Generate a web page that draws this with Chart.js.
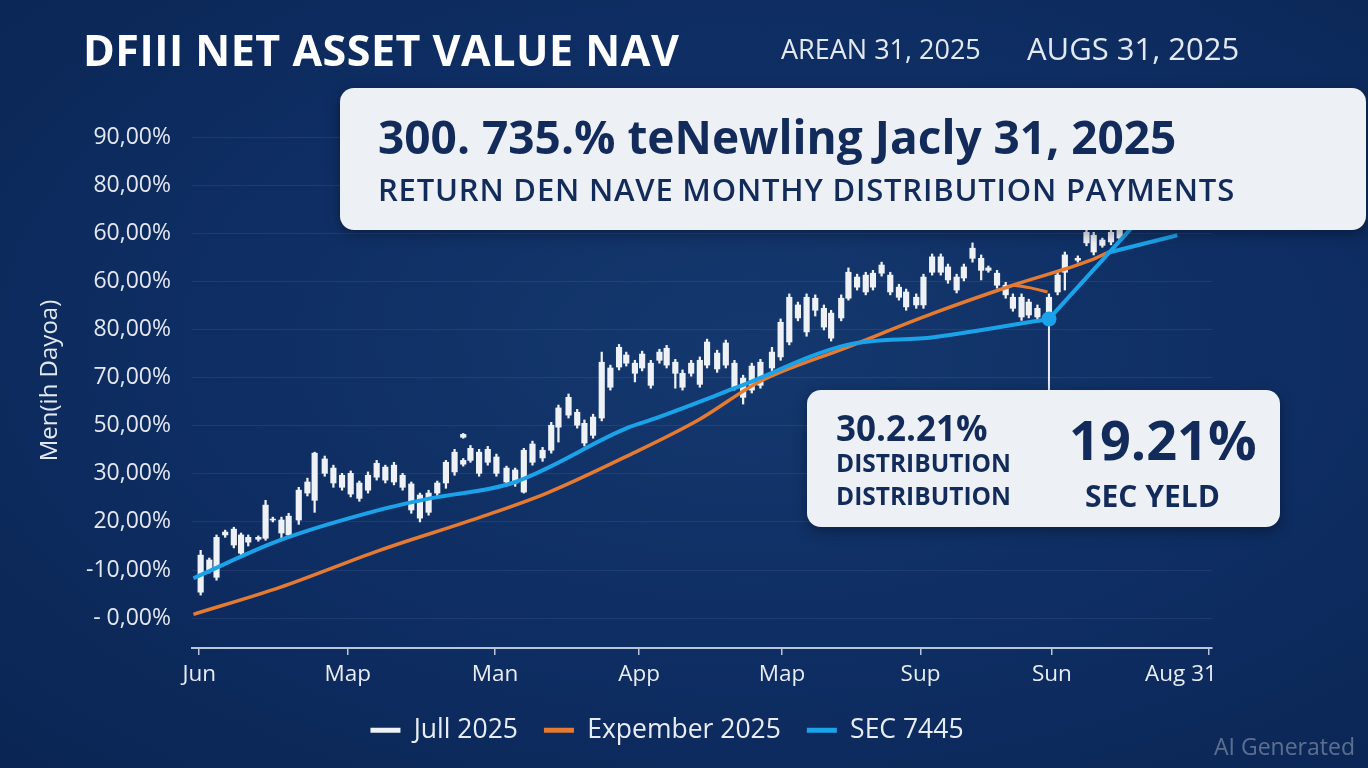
<!DOCTYPE html>
<html>
<head>
<meta charset="utf-8">
<script src="https://cdn.jsdelivr.net/npm/chart.js@4.4.1/dist/chart.umd.min.js"></script>
<style>
  html, body { margin: 0; padding: 0; }
  body { width: 1368px; height: 768px; overflow: hidden; font-family: "Open Sans", sans-serif; }
  #wrap {
    position: relative; width: 1368px; height: 768px;
    background: radial-gradient(ellipse at 55% 45%, #14386e 0%, #0e2d62 55%, #0a2553 100%);
  }
  #c { position: absolute; left: 0; top: 0; }
  .t { position: absolute; white-space: nowrap; line-height: 1; }
  #title { left: 83px; top: 28px; font-size: 43px; font-weight: 700; color: #fff; letter-spacing: 0.5px; }
  #d1 { left: 781px; top: 35px; font-size: 27px; color: #e3e9f2; }
  #d2 { left: 1027px; top: 33px; font-size: 31px; color: #e3e9f2; }
  .box {
    position: absolute; background: #edf1f6; border-radius: 14px;
    box-shadow: 0 4px 14px rgba(0, 0, 0, 0.35);
  }
  #box1 { left: 340px; top: 88px; width: 1026px; height: 142px; }
  #box2 { left: 807px; top: 390px; width: 473px; height: 137px; }
  .dk { color: #132b5b; font-weight: 700; }
  #b1a { left: 38px; top: 25px; font-size: 46px; }
  #b1b { left: 38px; top: 86px; font-size: 31px; font-weight: 600; letter-spacing: 0.8px; }
  #b2a { left: 29px; top: 20px; font-size: 35px; }
  #b2b { left: 29px; top: 61px; font-size: 24.5px; }
  #b2c { left: 29px; top: 94px; font-size: 24.5px; }
  #b2d { left: 262px; top: 22px; font-size: 54px; }
  #b2e { left: 278px; top: 91px; font-size: 30px; }
  #ai { left: 1214px; top: 735px; font-size: 23px; color: rgba(255, 255, 255, 0.33); }
</style>
</head>
<body>
<div id="wrap">
  <canvas id="c" width="1368" height="768"></canvas>
  <div class="t" id="title">DFIII NET ASSET VALUE NAV</div>
  <div class="t" id="d1">AREAN 31, 2025</div>
  <div class="t" id="d2">AUGS 31, 2025</div>
  <div class="box" id="box1">
    <div class="t dk" id="b1a">300. 735.% teNewling Jacly 31, 2025</div>
    <div class="t dk" id="b1b">RETURN DEN NAVE MONTHY DISTRIBUTION PAYMENTS</div>
  </div>
  <div class="box" id="box2">
    <div class="t dk" id="b2a">30.2.21%</div>
    <div class="t dk" id="b2b">DISTRIBUTION</div>
    <div class="t dk" id="b2c">DISTRIBUTION</div>
    <div class="t dk" id="b2d">19.21%</div>
    <div class="t dk" id="b2e">SEC YELD</div>
  </div>
  <div class="t" id="ai">AI Generated</div>
</div>
<script>
// axis text (as printed on the picture)
const xTickPos = [0, 1.03, 2.05, 3.05, 4.04, 5.0, 5.91, 7.0];
const xLabels = ['Jun', 'Map', 'Man', 'App', 'Map', 'Sup', 'Sun', 'Aug 31'];
const yTickPos = [0, 10, 20, 30, 40, 50, 60, 70, 80, 90, 100];
const yLabels = ['- 0,00%', '-10,00%', '20,00%', '30,00%', '50,00%', '70,00%',
  '80,00%', '60,00%', '60,00%', '80,00%', '90,00%'];
const legendNames = ['Jull 2025', 'Expember 2025', 'SEC 7445'];

// candles: x, body (open/close), wick (high/low)
const candleX = [0.01, 0.07, 0.12, 0.18, 0.24, 0.29, 0.34, 0.41, 0.46, 0.51, 0.57, 0.62, 0.69, 0.75, 0.80,
  0.87, 0.93, 0.99, 1.05, 1.11, 1.17, 1.23, 1.29, 1.35, 1.41, 1.47, 1.53, 1.59, 1.65, 1.71, 1.77, 1.83, 1.83,
  1.88, 1.94, 2.00, 2.06, 2.13, 2.19, 2.25, 2.31, 2.38, 2.44, 2.49, 2.56, 2.62, 2.67, 2.73, 2.79, 2.85, 2.91,
  2.96, 3.02, 3.07, 3.13, 3.19, 3.24, 3.30, 3.35, 3.41, 3.47, 3.52, 3.59, 3.65, 3.71, 3.77, 3.83, 3.89, 3.97,
  4.03, 4.09, 4.15, 4.21, 4.27, 4.33, 4.38, 4.45, 4.50, 4.56, 4.62, 4.67, 4.73, 4.79, 4.85, 4.90, 4.97, 5.02,
  5.08, 5.14, 5.19, 5.25, 5.30, 5.36, 5.42, 5.47, 5.53, 5.59, 5.64, 5.70, 5.75, 5.81, 5.89, 5.95, 6.00, 6.09,
  6.15, 6.20, 6.26, 6.32, 6.38];
const candleOpen = [13.1, 12.1, 16.8, 17.9, 18.5, 17.3, 16.8, 16.8, 23.5, 20.6, 20.4, 21.2, 26.6, 28.3, 34.3,
  33.1, 31.2, 29.7, 30.1, 28.1, 29.7, 32.2, 31.4, 31.8, 29.7, 27.9, 25.6, 26.0, 28.1, 32.4, 34.5, 32.8, 38.2,
  35.3, 34.5, 35.1, 33.5, 31.2, 30.8, 34.9, 36.2, 34.9, 40.1, 43.7, 45.9, 42.8, 40.5, 41.8, 53.2, 52.0, 56.3,
  54.7, 53.0, 54.9, 53.0, 55.3, 56.1, 53.2, 50.9, 53.0, 53.6, 57.4, 55.1, 57.2, 53.0, 49.9, 52.4, 53.2, 55.3,
  61.5, 66.7, 65.1, 66.7, 66.5, 64.4, 63.4, 66.5, 71.9, 70.9, 71.3, 71.7, 73.4, 71.3, 68.8, 67.8, 66.7, 70.9,
  75.1, 75.1, 73.0, 70.9, 73.0, 76.9, 74.8, 72.8, 71.7, 69.2, 66.7, 66.7, 65.7, 64.4, 66.7, 71.3, 75.5, 74.8,
  80.2, 79.6, 78.6, 80.2, 80.7];
const candleClose = [5.4, 10.0, 8.5, 17.3, 15.2, 13.5, 15.8, 16.4, 16.6, 20.4, 17.7, 17.3, 20.4, 26.0, 24.5,
  30.1, 28.1, 27.2, 25.8, 24.9, 26.6, 29.3, 28.7, 28.3, 27.2, 22.5, 20.8, 22.0, 26.0, 28.1, 30.4, 32.0, 37.6,
  32.8, 30.1, 32.4, 30.1, 28.3, 28.1, 26.2, 32.4, 33.3, 34.9, 39.7, 42.2, 40.1, 36.4, 38.0, 41.6, 48.0, 52.2,
  53.0, 50.9, 52.0, 48.4, 53.6, 52.6, 50.9, 48.0, 50.9, 48.6, 52.6, 51.8, 52.6, 48.0, 45.9, 47.4, 48.4, 52.0,
  54.3, 57.4, 62.4, 59.5, 64.0, 60.5, 58.2, 62.4, 66.5, 68.8, 67.8, 68.8, 71.7, 67.8, 66.7, 64.7, 65.1, 65.1,
  71.9, 71.9, 70.3, 68.2, 70.7, 74.8, 72.3, 72.3, 69.2, 67.2, 64.4, 62.6, 63.0, 62.6, 63.0, 67.8, 71.9, 74.4,
  78.0, 76.1, 77.5, 78.2, 79.0];
const candleHigh = [14.1, 12.5, 17.3, 18.3, 18.9, 17.7, 17.3, 17.1, 24.5, 21.0, 21.0, 21.8, 27.2, 29.1, 34.5,
  33.7, 31.8, 30.1, 30.6, 28.5, 30.4, 32.8, 31.8, 32.4, 30.1, 28.3, 26.0, 26.6, 28.5, 32.8, 35.1, 33.2, 38.4,
  35.9, 35.1, 35.7, 34.1, 31.6, 31.2, 35.3, 36.8, 35.5, 40.7, 44.3, 46.6, 43.4, 41.2, 42.4, 55.3, 52.6, 56.9,
  55.3, 53.6, 55.5, 53.6, 55.9, 56.7, 53.8, 51.6, 53.6, 54.3, 58.0, 55.7, 57.8, 53.6, 50.5, 53.0, 53.8, 56.3,
  62.2, 67.4, 65.7, 67.4, 67.2, 65.1, 64.0, 67.2, 72.8, 71.5, 71.9, 72.3, 74.0, 71.9, 69.4, 68.4, 67.4, 71.5,
  75.7, 75.7, 73.6, 71.5, 73.6, 78.0, 75.5, 73.2, 72.3, 69.8, 67.4, 67.4, 66.3, 65.1, 67.4, 71.9, 76.1, 75.3,
  80.9, 80.2, 79.0, 80.9, 81.3];
const candleLow = [4.8, 9.4, 7.9, 16.8, 14.6, 12.9, 15.0, 16.0, 16.2, 20.0, 16.2, 16.6, 19.5, 25.4, 22.0,
  29.5, 27.2, 26.6, 25.2, 24.3, 26.0, 28.7, 28.1, 27.7, 26.6, 21.8, 20.0, 21.4, 25.4, 27.0, 29.7, 31.6, 37.4,
  32.4, 29.5, 31.8, 29.5, 27.7, 27.4, 26.0, 31.8, 32.6, 34.3, 36.6, 41.6, 39.5, 35.8, 37.4, 41.0, 47.4, 51.6,
  52.4, 49.1, 51.4, 47.8, 53.0, 52.0, 47.8, 47.4, 50.3, 48.0, 52.0, 51.1, 52.0, 47.4, 44.5, 46.8, 47.8, 51.4,
  53.6, 56.8, 61.8, 58.6, 62.8, 59.9, 57.6, 61.8, 66.1, 68.2, 67.2, 68.2, 71.1, 67.2, 66.1, 64.0, 64.4, 64.4,
  71.3, 71.3, 69.6, 67.6, 70.1, 74.0, 70.3, 71.9, 68.6, 66.5, 63.8, 61.9, 62.4, 61.9, 62.4, 67.2, 68.2, 74.0,
  77.4, 75.5, 77.1, 77.6, 78.4];

// orange line
const expX = [-0.04, 0.56, 1.25, 1.95, 2.41, 2.98, 3.46, 3.88, 4.49, 5.09, 5.64, 6.18, 6.29];
const expY = [0.8, 6.4, 14.1, 21.0, 26.0, 33.9, 41.2, 49.1, 56.3, 63.4, 69.2, 74.4, 75.9];
const expSpurX = [5.64, 5.77, 5.88];
const expSpurY = [69.2, 68.6, 67.8];

// blue line: curve up to the marked point, then a straight climb
const secX = [-0.04, 0.56, 1.25, 1.60, 2.17, 2.98, 3.13, 3.73, 4.49, 5.09, 5.89];
const secY = [8.3, 16.2, 22.5, 24.9, 28.1, 39.7, 41.2, 48.0, 56.8, 58.4, 62.2];
const secRiseX = [5.89, 6.45, 6.59];
const secRiseY = [62.2, 80.7, 85.9];
const secTailX = [6.29, 6.78];
const secTailY = [75.9, 79.6];
const markerX = [5.89];
const markerY = [62.2];
const stemY = [62.2, 47.4];

const pts = (xs, ys) => xs.map((x, i) => ({ x, y: ys[i] }));
const FONT = '"Open Sans", sans-serif';
const white = '#eef1f6';
const orange = '#e57a33';
const blue = '#1ba3ea';

const legendHeightFix = {
  id: 'legendHeightFix',
  beforeInit(chart) {
    const fit = chart.legend.fit;
    chart.legend.fit = function () {
      fit.call(this);
      this.height = 77;
    };
  },
};

new Chart(document.getElementById('c'), {
  type: 'bar',
  data: {
    datasets: [
      {
        label: 'wick',
        data: candleX.map((x, i) => ({ x, y: [candleLow[i], candleHigh[i]] })),
        backgroundColor: white,
        barThickness: 1.6,
        grouped: false,
        order: 3,
      },
      {
        label: legendNames[0],
        data: candleX.map((x, i) => ({ x, y: [candleClose[i], candleOpen[i]] })),
        backgroundColor: white,
        barThickness: 5.5,
        grouped: false,
        order: 2,
      },
      {
        type: 'line', label: legendNames[1], data: pts(expX, expY),
        borderColor: orange, borderWidth: 3.5, pointRadius: 0,
        cubicInterpolationMode: 'monotone', order: 1,
      },
      {
        type: 'line', label: 'spur', data: pts(expSpurX, expSpurY),
        borderColor: orange, borderWidth: 3, pointRadius: 0, tension: 0.3, order: 1,
      },
      {
        type: 'line', label: legendNames[2], data: pts(secX, secY),
        borderColor: blue, borderWidth: 4, pointRadius: 0,
        cubicInterpolationMode: 'monotone', order: 0,
      },
      {
        type: 'line', label: 'rise', data: pts(secRiseX, secRiseY),
        borderColor: blue, borderWidth: 4, pointRadius: 0, order: 0,
      },
      {
        type: 'line', label: 'tail', data: pts(secTailX, secTailY),
        borderColor: blue, borderWidth: 4, pointRadius: 0, order: 0,
      },
      {
        type: 'line', label: 'stem', data: pts([markerX[0], markerX[0]], stemY),
        borderColor: '#e6eaf0', borderWidth: 2, pointRadius: 0, order: 1,
      },
      {
        type: 'line', label: 'marker', data: pts(markerX, markerY),
        showLine: false, pointRadius: 7.5, pointBackgroundColor: blue, pointBorderWidth: 0, order: 0,
      },
    ],
  },
  options: {
    responsive: false,
    animation: false,
    layout: { padding: { top: 113, right: 34, left: 0, bottom: 0 } },
    plugins: {
      tooltip: { enabled: false },
      legend: {
        position: 'bottom',
        labels: {
          color: '#e8edf5',
          font: { family: FONT, size: 26.5 },
          boxWidth: 30,
          boxHeight: 5,
          padding: 26,
          generateLabels: () => legendNames.map((text, i) => ({
            text,
            fillStyle: [white, orange, blue][i],
            strokeStyle: [white, orange, blue][i],
            lineWidth: 0,
            fontColor: '#e8edf5',
            datasetIndex: [1, 2, 4][i],
          })),
        },
      },
    },
    scales: {
      x: {
        type: 'linear',
        offset: false,
        min: -0.05,
        max: 7.02,
        afterBuildTicks: (s) => { s.ticks = xTickPos.map((v) => ({ value: v })); },
        afterFit: (s) => { s.height = 43; },
        ticks: {
          color: '#e8edf5',
          font: { family: FONT, size: 22.5 },
          padding: 6,
          // last label sits to the left of its tick mark, as in the picture
          callback: (v, i) => {
            const lab = xLabels[xTickPos.indexOf(v)];
            return i === xTickPos.length - 1 ? lab + '\u2003\u2003\u2002' : lab;
          },
        },
        grid: { offset: false, drawOnChartArea: false, color: '#b9c5d8', tickLength: 7, lineWidth: 1.5 },
        border: { color: '#b9c5d8', width: 2 },
      },
      y: {
        min: -6.2,
        max: 105,
        afterBuildTicks: (s) => { s.ticks = yTickPos.map((v) => ({ value: v })); },
        afterFit: (s) => { s.width = 192; },
        ticks: {
          color: '#e3e8f0',
          font: { family: FONT, size: 23 },
          padding: 21,
          callback: (v) => yLabels[yTickPos.indexOf(v)],
        },
        grid: { color: 'rgba(255,255,255,0.07)', drawTicks: false },
        border: { display: false },
        title: {
          display: true,
          text: 'Men(ih Dayoa)',
          color: '#e3e8f0',
          font: { family: FONT, size: 24 },
          padding: { top: 36, bottom: 0 },
        },
      },
      // empty right-hand margin so the legend centres like the picture
      yRight: {
        position: 'right',
        afterFit: (s) => { s.width = 122; },
        ticks: { display: false },
        grid: { display: false },
        border: { display: false },
      },
    },
  },
  plugins: [legendHeightFix],
});
</script>
</body>
</html>
